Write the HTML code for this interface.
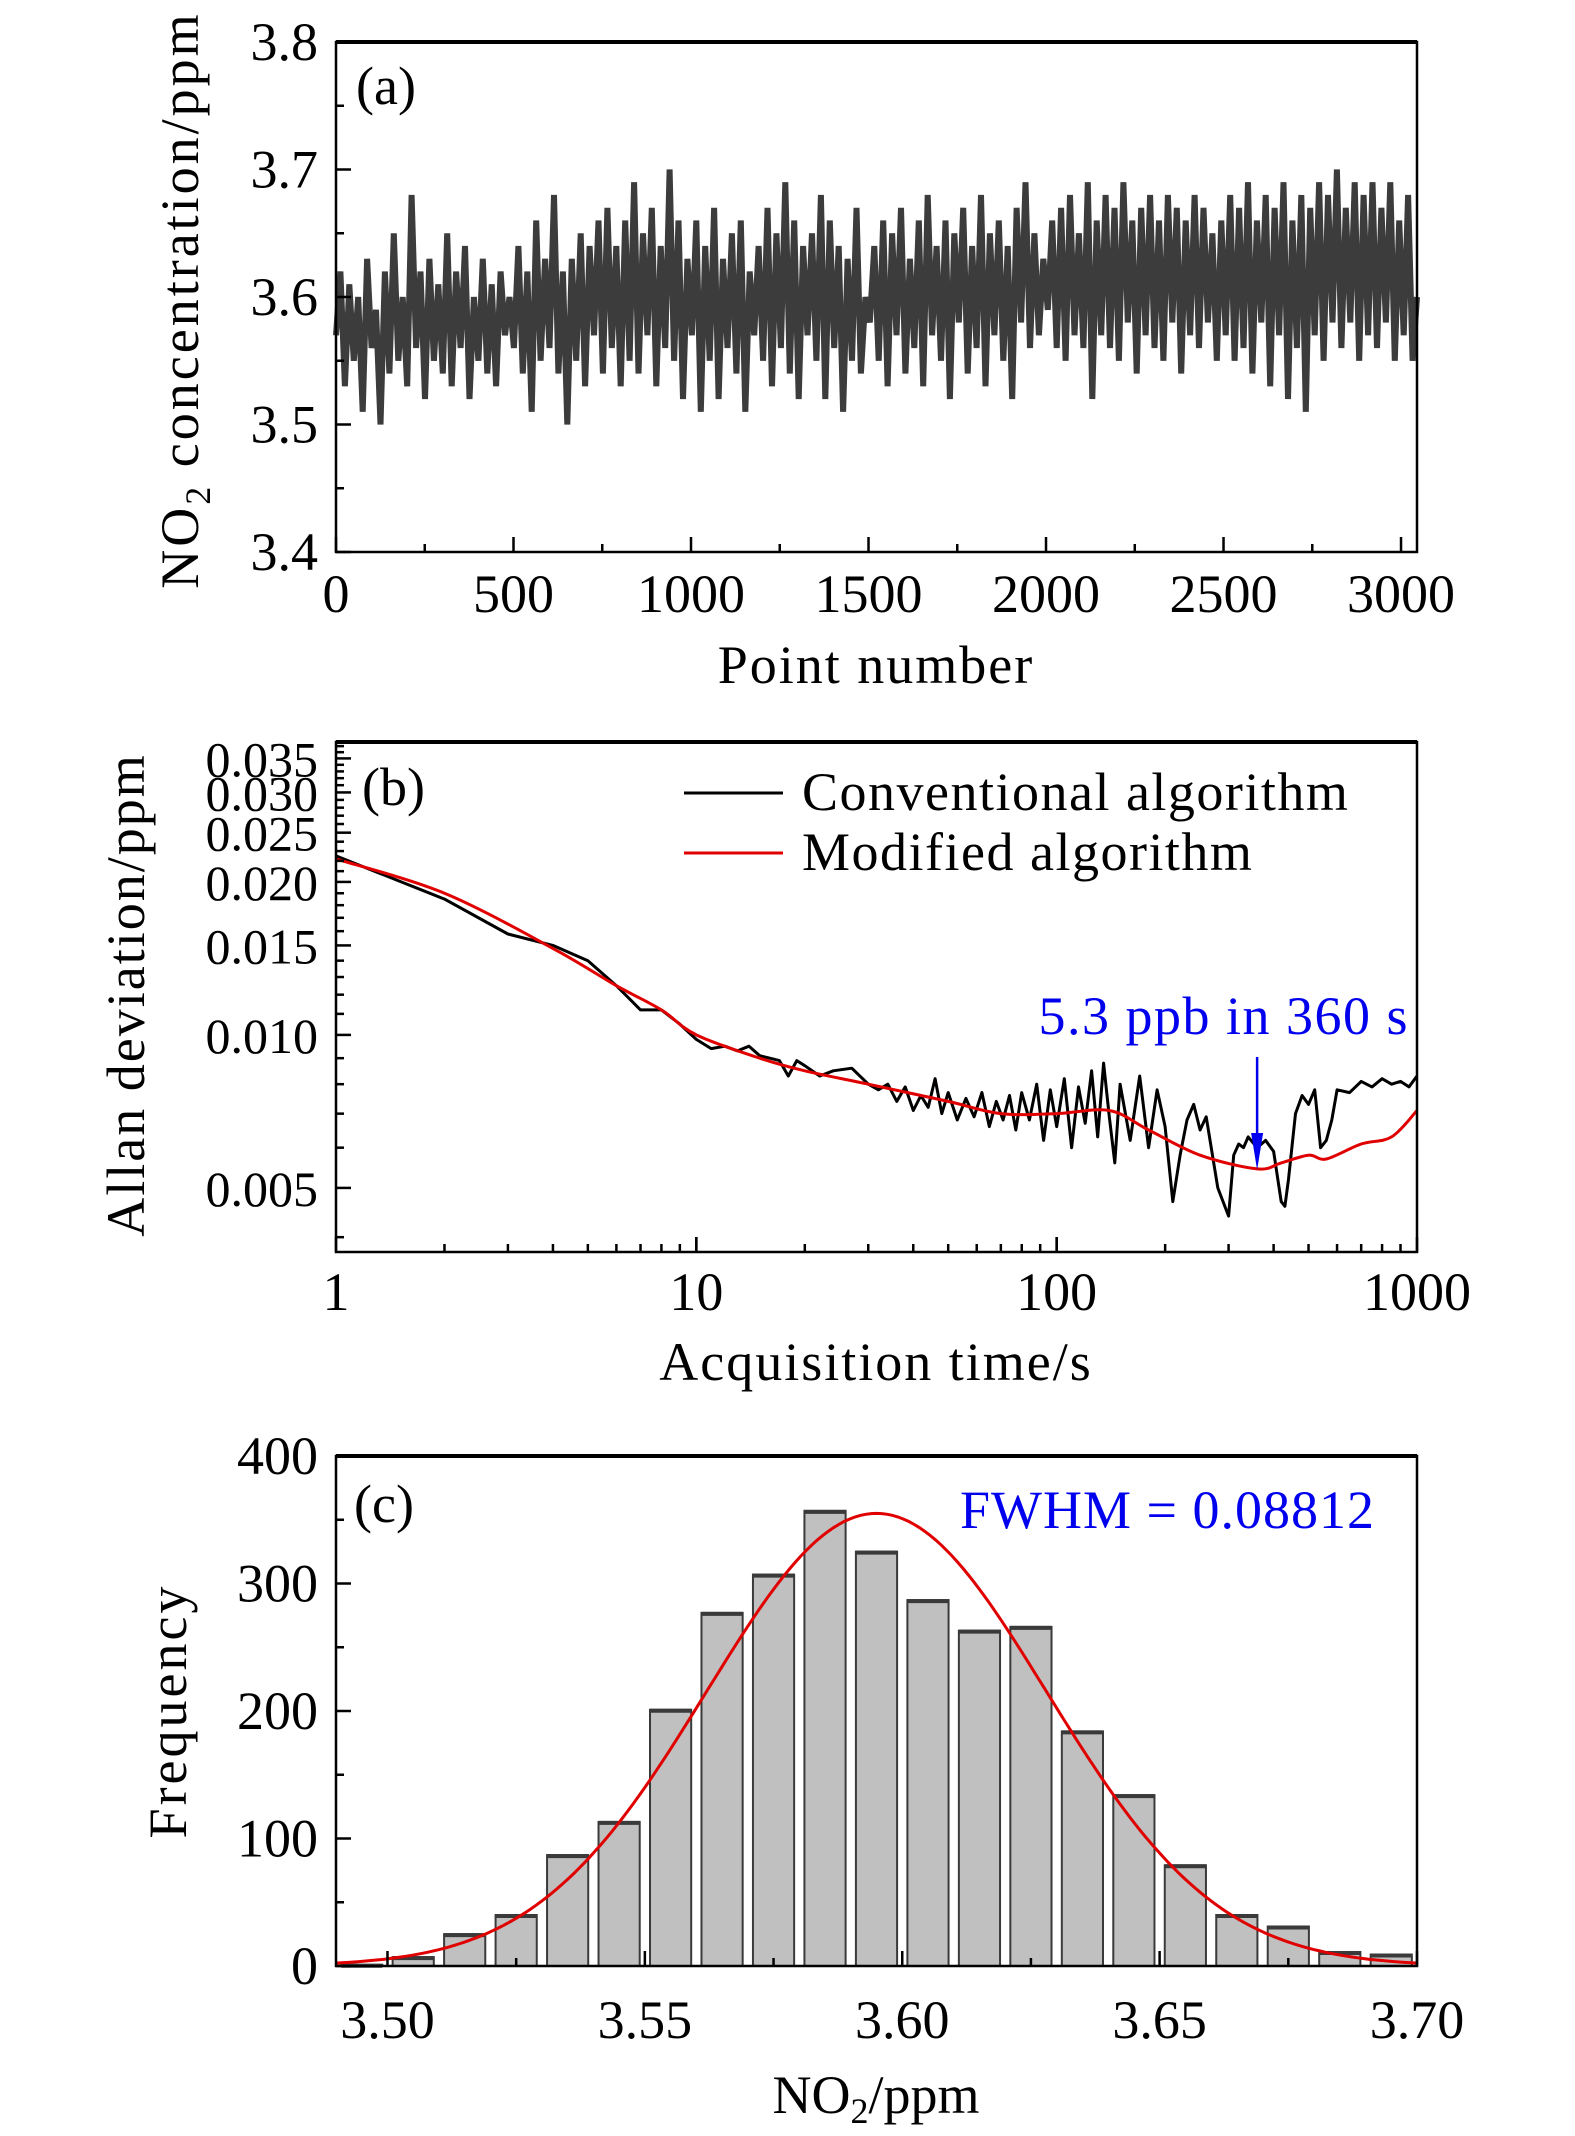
<!DOCTYPE html>
<html><head><meta charset="utf-8">
<style>
html,body{margin:0;padding:0;background:#fff;}
svg{display:block;}
text{font-family:"Liberation Serif",serif;}
</style></head>
<body>
<svg id="fig" width="1575" height="2136" viewBox="0 0 1575 2136" xmlns="http://www.w3.org/2000/svg">
<g id="pa"></g>
<g id="pb"></g>
<g id="pc"></g>
</svg>
<script>
// ---------- Panel (a) data ----------
const aValues = [3.57,3.62,3.53,3.61,3.55,3.60,3.51,3.63,3.56,3.59,3.50,3.62,3.54,3.65,3.55,3.60,3.53,3.68,3.56,3.62,3.52,3.63,3.55,3.61,3.54,3.65,3.53,3.62,3.56,3.64,3.52,3.60,3.55,3.63,3.54,3.61,3.53,3.62,3.57,3.60,
3.56,3.64,3.54,3.62,3.51,3.66,3.55,3.63,3.56,3.68,3.54,3.62,3.50,3.63,3.55,3.65,3.53,3.64,3.57,3.66,3.54,3.67,3.56,3.64,3.53,3.66,3.55,3.69,3.54,3.65,3.57,3.67,3.53,3.64,3.56,3.70,3.55,3.66,3.52,3.63,
3.57,3.66,3.51,3.64,3.55,3.67,3.52,3.63,3.56,3.65,3.54,3.66,3.51,3.62,3.57,3.64,3.55,3.67,3.53,3.65,3.56,3.69,3.54,3.66,3.52,3.64,3.57,3.65,3.55,3.68,3.52,3.66,3.56,3.64,3.51,3.63,3.55,3.67,3.54,3.60,
3.58,3.64,3.55,3.66,3.53,3.65,3.57,3.67,3.54,3.63,3.56,3.66,3.53,3.68,3.57,3.64,3.55,3.66,3.52,3.65,3.58,3.67,3.54,3.64,3.56,3.68,3.53,3.65,3.57,3.66,3.55,3.64,3.52,3.67,3.58,3.69,3.56,3.65,3.57,3.63,
3.59,3.66,3.56,3.67,3.55,3.68,3.57,3.65,3.56,3.69,3.52,3.66,3.57,3.68,3.56,3.67,3.55,3.69,3.58,3.66,3.54,3.67,3.57,3.68,3.56,3.66,3.55,3.68,3.58,3.67,3.54,3.66,3.57,3.68,3.56,3.67,3.58,3.65,3.55,3.66,
3.57,3.68,3.55,3.67,3.56,3.69,3.54,3.66,3.58,3.68,3.53,3.67,3.57,3.69,3.52,3.66,3.56,3.68,3.51,3.67,3.57,3.69,3.55,3.68,3.58,3.70,3.56,3.67,3.58,3.69,3.55,3.68,3.57,3.69,3.56,3.67,3.58,3.69,3.55,3.66,3.57,3.68,3.55,3.60];
const aXMax = 3045;
const aXTicks = [0,500,1000,1500,2000,2500,3000];
const aYTicks = [3.4,3.5,3.6,3.7,3.8];

// ---------- Panel (b) data ----------
const convTau = [1,2,3,4,5,6,7,8,9,10,11,12,13,14,15,16,17,18,19,20,22,24,27,30,32,34,36,38,40,42,44,46,48,50,53,56,59,62,65,68,71,74,77,80,84,88,92,96,100,105,110,115,120,125,130,135,140,145,150,160,170,180,190,200,210,220,230,240,250,260,280,300,310,320,330,340,360,380,400,420,430,440,460,480,500,520,540,560,580,600,650,700,750,800,850,900,950,1000];
const convVal = [0.0225,0.0185,0.0158,0.0150,0.0140,0.0125,0.0112,0.0112,0.0105,0.0098,0.0094,0.0095,0.0093,0.0095,0.0091,0.0090,0.0089,0.0083,0.0089,0.0087,0.0083,0.0085,0.0086,0.0080,0.0078,0.0080,0.0074,0.0079,0.0071,0.0076,0.0072,0.0082,0.0070,0.0077,0.0068,0.0075,0.0069,0.0077,0.0066,0.0074,0.0068,0.0076,0.0065,0.0077,0.0068,0.0080,0.0062,0.0078,0.0066,0.0082,0.0060,0.0079,0.0067,0.0085,0.0063,0.0088,0.0069,0.0056,0.0080,0.0062,0.0083,0.0060,0.0078,0.0066,0.0047,0.0058,0.0068,0.0073,0.0065,0.0069,0.0050,0.0044,0.0058,0.0061,0.0060,0.0063,0.0060,0.0062,0.0059,0.0047,0.0046,0.0052,0.0070,0.0076,0.0073,0.0078,0.0060,0.0062,0.0068,0.0078,0.0077,0.0081,0.0079,0.0082,0.0080,0.0081,0.0079,0.0083];
const modTau = [1,2,4,6,8,10,15,20,30,50,70,100,140,180,250,360,420,500,560,700,850,1000];
const modVal = [0.0222,0.0190,0.0148,0.0125,0.0112,0.0100,0.0090,0.0085,0.0080,0.0074,0.0070,0.0070,0.0071,0.0065,0.0058,0.00545,0.0056,0.0058,0.0057,0.0061,0.0063,0.0071];
const bXTicks = [1,10,100,1000];
const bYTicks = [0.005,0.010,0.015,0.020,0.025,0.030,0.035];
const arrowTau = 360;

// ---------- Panel (c) data ----------
const binStarts = [3.49,3.50,3.51,3.52,3.53,3.54,3.55,3.56,3.57,3.58,3.59,3.60,3.61,3.62,3.63,3.64,3.65,3.66,3.67,3.68,3.69];
const binCounts = [1,7,25,40,87,113,201,277,307,357,325,287,263,266,184,134,79,40,31,11,9];
const fitCenter = 3.595, fitPeak = 355, fitSigma = 0.033;
const cXTicks = [3.50,3.55,3.60,3.65,3.70];
const cYTicks = [0,100,200,300,400];

const NS = "http://www.w3.org/2000/svg";
const FS = 54;
function mk(parent, tag, attrs, txt){
  const e = document.createElementNS(NS, tag);
  for (const k in attrs) e.setAttribute(k, attrs[k]);
  if (txt !== undefined) e.textContent = txt;
  parent.appendChild(e);
  return e;
}
const L = 336, R = 1417;

function frame(g, top, bot){
  const f = mk(g,'rect',{x:L,y:top,width:R-L,height:bot-top,fill:'none',stroke:'#000','stroke-width':2.5});
  
  
  const t = mk(g,'line',{x1:L,x2:R,y1:top,y2:top,stroke:'#000','stroke-width':4});
  
  
}
function tick(g,x1,y1,x2,y2,w){
  const t = mk(g,'line',{x1:x1,y1:y1,x2:x2,y2:y2,stroke:'#000','stroke-width':w||2.5});
  
  
}
function label(g,x,y,s,anchor,name,extra){
  const a = Object.assign({x:x,y:y,'font-size':FS,'text-anchor':anchor||'middle',fill:'#000'}, extra||{});
  const t = mk(g,'text',a,s);
  
  
  return t;
}
function ytitle(g,x,y,s,name,ls){
  const t = mk(g,'text',{x:0,y:0,'font-size':FS,'text-anchor':'middle',transform:`translate(${x},${y}) rotate(-90)`,'letter-spacing':ls||3},s);
  
  
  return t;
}

// ===== Panel A =====
(function(){
  const g = document.getElementById('pa');
  const top=42, bot=552;
  const xs = v => L + v/aXMax*(R-L);
  const ys = v => bot - (v-3.4)/0.4*(bot-top);
  const step = aXMax/(aValues.length-1);
  const pts = aValues.map((v,i)=>xs(i*step).toFixed(1)+','+ys(v).toFixed(1)).join(' ');
  const line = mk(g,'polyline',{points:pts,fill:'none',stroke:'#3c3c3c','stroke-width':6,'stroke-linejoin':'bevel'});
  
  
  frame(g,top,bot);
  for (let v=0; v<=aXMax; v+=250){
    const major = v%500===0;
    tick(g,xs(v),bot,xs(v),bot-(major?15:8));
  }
  aXTicks.forEach(v=>label(g,xs(v),612,String(v),'middle','x-tick-label'));
  for (let k=0;k<=8;k++){
    const v=3.4+k*0.05, major=k%2===0;
    tick(g,L,ys(v),L+(major?15:8),ys(v));
  }
  aYTicks.forEach(v=>label(g,318,ys(v)+18,v.toFixed(1),'end','y-tick-label'));
  label(g,876,683,'Point number','middle','x-axis-title',{'letter-spacing':2});
  const yt = ytitle(g,198,300,'','y-axis-title',3);
  yt.innerHTML = 'NO<tspan font-size="36" dy="12">2</tspan><tspan dy="-12"> concentration/ppm</tspan>';
  label(g,356,104,'(a)','start','panel-label-a');
})();

// ===== Panel B =====
(function(){
  const g = document.getElementById('pb');
  const top=742, bot=1252;
  const xs = v => L + Math.log10(v)/3*(R-L);
  const lo=0.00374, hi=0.0377;
  const ys = v => bot - (Math.log10(v)-Math.log10(lo))/(Math.log10(hi)-Math.log10(lo))*(bot-top);
  const pc = convTau.map((t,i)=>xs(t).toFixed(1)+','+ys(convVal[i]).toFixed(1)).join(' ');
  const c = mk(g,'polyline',{points:pc,fill:'none',stroke:'#000','stroke-width':3,'stroke-linejoin':'round'});
  
  
  const mp = modTau.map((t,i)=>[xs(t),ys(modVal[i])]);
  let d = 'M'+mp[0][0]+','+mp[0][1];
  for (let i=0;i<mp.length-1;i++){
    const p0=mp[Math.max(0,i-1)],p1=mp[i],p2=mp[i+1],p3=mp[Math.min(mp.length-1,i+2)];
    const c1=[p1[0]+(p2[0]-p0[0])/6,p1[1]+(p2[1]-p0[1])/6];
    const c2=[p2[0]-(p3[0]-p1[0])/6,p2[1]-(p3[1]-p1[1])/6];
    d+=` C${c1[0].toFixed(1)},${c1[1].toFixed(1)} ${c2[0].toFixed(1)},${c2[1].toFixed(1)} ${p2[0].toFixed(1)},${p2[1].toFixed(1)}`;
  }
  const m = mk(g,'path',{d:d,fill:'none',stroke:'#e00000','stroke-width':3});
  
  
  frame(g,top,bot);
  for (let e=0;e<3;e++) for (let k=1;k<=10;k++){
    const v=k*Math.pow(10,e); const major=(k===1||k===10);
    tick(g,xs(v),bot,xs(v),bot-(major?15:8));
  }
  bXTicks.forEach(v=>label(g,xs(v),1310,String(v),'middle','x-tick-label'));
  for (let k=4;k<=37;k++){
    const v=k*0.001; const major = k%5===0;
    tick(g,L,ys(v),L+(major?15:8),ys(v));
  }
  bYTicks.forEach(v=>label(g,318,ys(v)+18,v.toFixed(3),'end','y-tick-label',{'font-size':50}));
  label(g,876,1380,'Acquisition time/s','middle','x-axis-title',{'letter-spacing':2});
  ytitle(g,144,995,'Allan deviation/ppm','y-axis-title',2);
  label(g,362,805,'(b)','start','panel-label-b');
  const l1 = mk(g,'line',{x1:684,x2:783,y1:793,y2:793,stroke:'#000','stroke-width':3});
  
  
  label(g,802,810,'Conventional algorithm','start','legend-conventional-label',{'letter-spacing':1.5});
  const l2 = mk(g,'line',{x1:684,x2:783,y1:853,y2:853,stroke:'#e00000','stroke-width':3});
  
  
  label(g,802,870,'Modified algorithm','start','legend-modified-label',{'letter-spacing':1.5});
  const ax = xs(arrowTau);
  const ar = mk(g,'line',{x1:ax,x2:ax,y1:1057,y2:1150,stroke:'#0000ee','stroke-width':2.5});
  
  
  const ah = mk(g,'polygon',{points:`${ax-6},${1133} ${ax+6},${1133} ${ax},${1170}`,fill:'#0000ee'});
  
  
  label(g,1409,1034,'5.3 ppb in 360 s','end','annotation-text',{fill:'#0000ee','letter-spacing':1.5});
})();

// ===== Panel C =====
(function(){
  const g = document.getElementById('pc');
  const top=1456, bot=1966;
  const x0=3.49, x1=3.70;
  const xs = v => L + (v-x0)/(x1-x0)*(R-L);
  const ys = v => bot - v/400*(bot-top);
  const bw = 0.01;
  binStarts.forEach((s,i)=>{
    const xa = xs(s+bw*0.1), xb = xs(s+bw*0.9);
    const b = mk(g,'rect',{x:xa,y:ys(binCounts[i]),width:xb-xa,height:bot-ys(binCounts[i]),fill:'#c0c0c0',stroke:'#3a3a3a','stroke-width':2});
    
    
    const tp = mk(g,'line',{x1:xa,x2:xb,y1:ys(binCounts[i])+1,y2:ys(binCounts[i])+1,stroke:'#3a3a3a','stroke-width':4});
    
    
  });
  let d='';
  for (let k=0;k<=200;k++){
    const v = x0 + (x1-x0)*k/200;
    const y = fitPeak*Math.exp(-0.5*Math.pow((v-fitCenter)/fitSigma,2));
    d += (k?'L':'M')+xs(v).toFixed(1)+','+ys(y).toFixed(1);
  }
  const fit = mk(g,'path',{d:d,fill:'none',stroke:'#e00000','stroke-width':3});
  
  
  frame(g,top,bot);
  for (let k=0;k<=8;k++){
    const v=3.50+k*0.025, major=k%2===0;
    tick(g,xs(v),bot,xs(v),bot-(major?15:8));
  }
  cXTicks.forEach(v=>label(g,xs(v),2038,v.toFixed(2),'middle','x-tick-label'));
  for (let k=0;k<=8;k++){
    const v=k*50, major=k%2===0;
    tick(g,L,ys(v),L+(major?15:8),ys(v));
  }
  cYTicks.forEach(v=>label(g,318,ys(v)+18,String(v),'end','y-tick-label'));
  const xt = label(g,876,2113,'','middle','x-axis-title');
  xt.innerHTML = 'NO<tspan font-size="36" dy="10">2</tspan><tspan dy="-10">/ppm</tspan>';
  ytitle(g,186,1711,'Frequency','y-axis-title',3);
  label(g,354,1522,'(c)','start','panel-label-c');
  label(g,960,1528,'FWHM = 0.08812','start','fwhm-annotation',{fill:'#0000ee','letter-spacing':1});
})();
</script>
</body></html>
